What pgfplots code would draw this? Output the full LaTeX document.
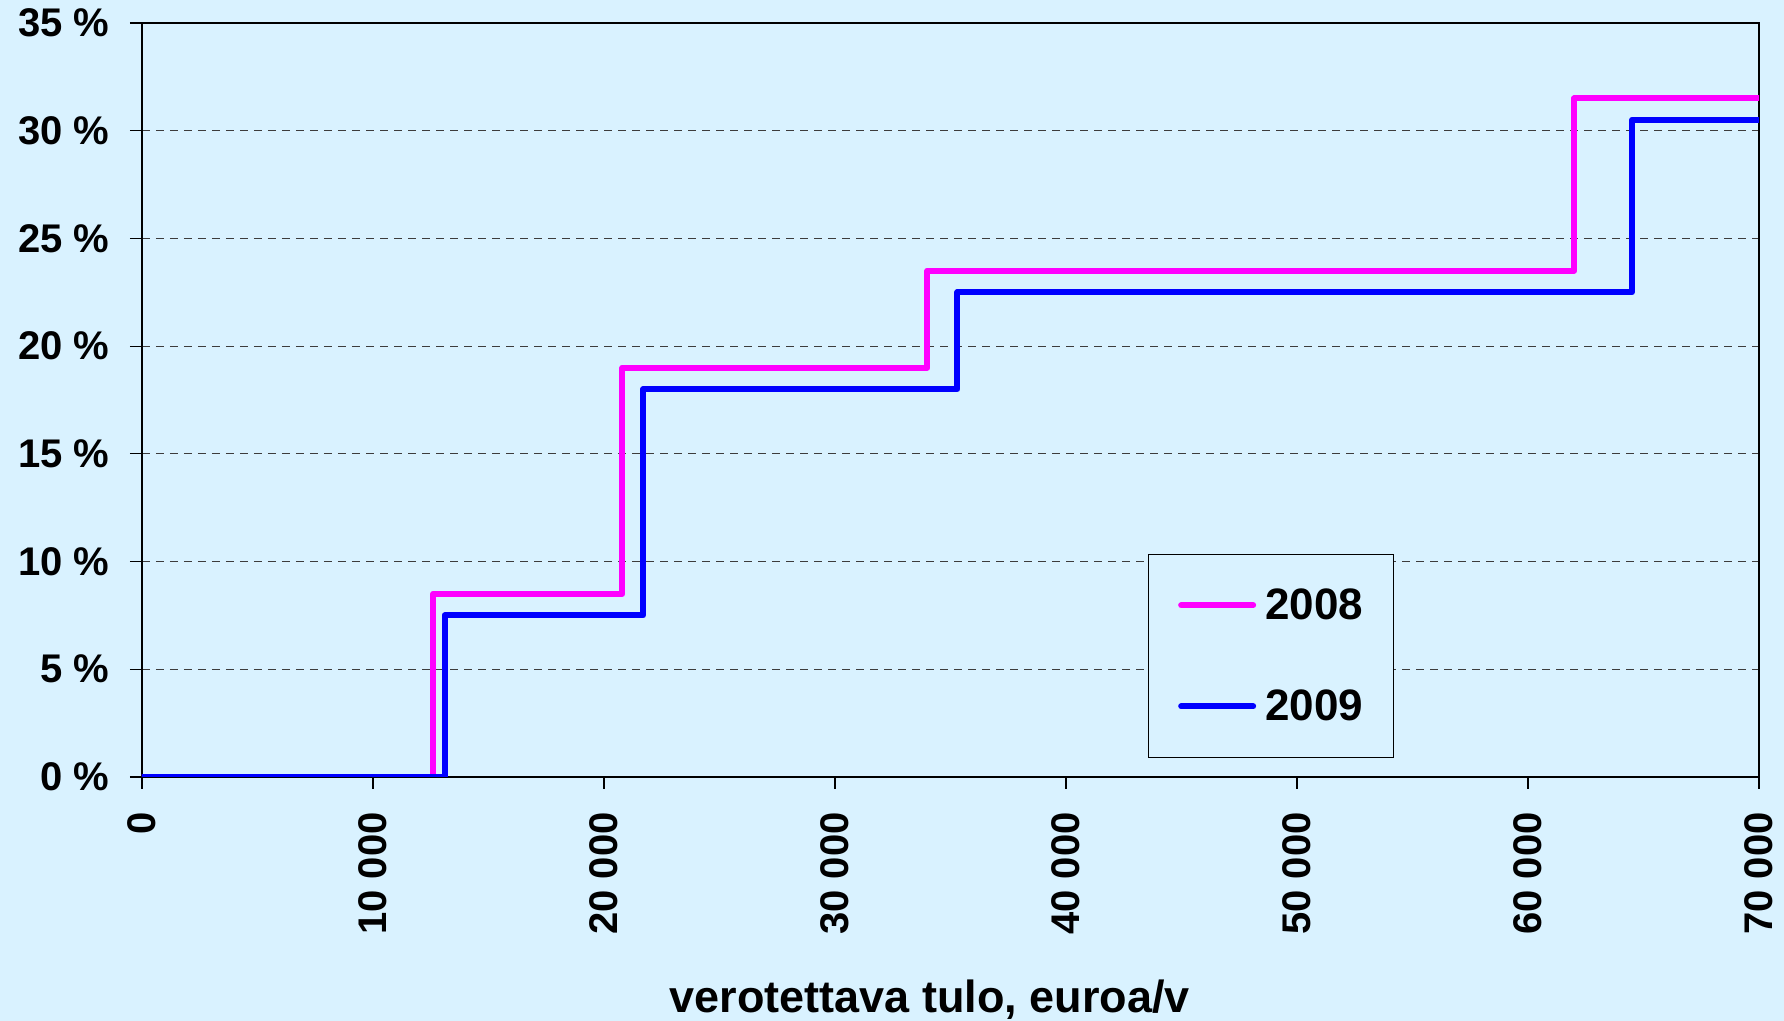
\documentclass[border=0pt]{standalone}
\usepackage{pgfplots}
\pgfplotsset{compat=1.18}
\usepackage{fontspec}
\setmainfont{Liberation Sans}
\definecolor{bg}{RGB}{217,242,255}
\definecolor{gridc}{RGB}{60,60,60}
\definecolor{mag}{RGB}{255,0,255}
\definecolor{blu}{RGB}{0,0,255}
\begin{document}
\begin{tikzpicture}
\useasboundingbox (0,0) rectangle (892pt,510.5pt);
\fill[bg] (0,0) rectangle (892pt,510.5pt);
\begin{axis}[
  at={(71pt,122pt)}, anchor=south west,
  width=808.5pt, height=377pt, scale only axis,
  xmin=0, xmax=70000, ymin=0, ymax=35,
  axis background/.style={fill=bg},
  axis line style={black, line width=0.8pt},
  scaled x ticks=false,
  xtick={0,10000,20000,30000,40000,50000,60000,70000},
  xticklabels={0,{10 000},{20 000},{30 000},{40 000},{50 000},{60 000},{70 000}},
  ytick={0,5,...,35},
  yticklabel={\pgfmathprintnumber{\tick}~\%},
  xtick pos=bottom, ytick pos=left,
  tick align=outside, major tick length=6pt,
  tick style={black, line width=0.6pt},
  /pgf/number format/assume math mode=true,
  ticklabel style={font=\fontsize{20}{24}\selectfont\bfseries},
  yticklabel style={anchor=east, inner sep=0pt, xshift=-10pt},
  xticklabel style={rotate=90, anchor=east, inner sep=0pt},
  xticklabel shift=11.5pt,
  ymajorgrids, grid style={gridc, dash pattern=on 4pt off 3pt, line width=0.5pt},
  xlabel={verotettava tulo, euroa/v},
  xlabel style={at={(axis description cs:0.4873,0)}, anchor=base, yshift=-118pt, font=\fontsize{22.5}{27}\selectfont\bfseries},
  legend image code/.code={\draw[#1, line cap=round, line width=3pt] (0pt,0pt) -- (36pt,0pt);},
  legend style={at={(axis description cs:0.622,0.2958)}, anchor=north west,
    draw=black, fill=bg, inner xsep=15pt, inner ysep=17pt,
    row sep=33.7pt, column sep=4.5pt,
    nodes={inner sep=0pt, font=\fontsize{22}{26}\selectfont\bfseries},
    cells={anchor=west}},
]
\addplot[const plot, draw=mag, line width=3pt, line cap=round, line join=round]
  coordinates {(0,0) (12600,8.5) (20800,19) (34000,23.5) (62000,31.5) (70000,31.5)};
\addlegendentry{2008}
\addplot[const plot, draw=blu, line width=3pt, line cap=round, line join=round]
  coordinates {(0,0) (13100,7.5) (21700,18) (35300,22.5) (64500,30.5) (70000,30.5)};
\addlegendentry{2009}
\end{axis}
\end{tikzpicture}
\end{document}
